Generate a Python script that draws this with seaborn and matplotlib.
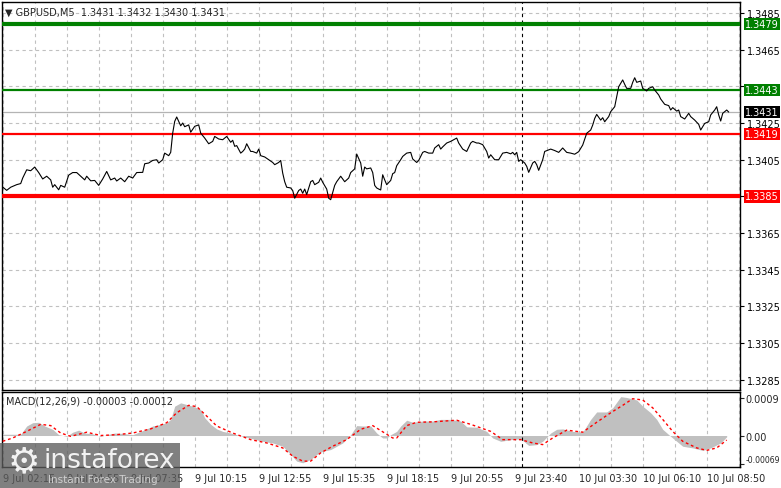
import numpy as np
import pandas as pd
import matplotlib
matplotlib.use("Agg")
import matplotlib.pyplot as plt
import matplotlib.transforms as mtrans
from matplotlib.patches import Rectangle
import seaborn as sns

# ---------------- data ----------------
symbol_title = "\u25bc GBPUSD,M5  1.3431 1.3432 1.3430 1.3431"
macd_title = "MACD(12,26,9) -0.00003 -0.00012"

price_bar = [0, 2, 4, 7, 9, 10, 12, 14, 16, 18, 20, 22, 24, 25, 26, 28, 29, 31, 33, 35, 37, 39, 41, 42, 44,
             46, 48, 50, 52, 54, 56, 57, 59, 61, 63, 65, 67, 70, 71, 73, 75, 77, 78, 80, 81, 83, 84, 85, 86,
             87, 89, 90, 91, 93, 94, 96, 98, 99, 101, 103, 105, 106, 108, 110, 111, 112, 114, 115, 116, 117,
             119, 120, 121, 122, 124, 125, 127, 128, 129, 131, 133, 135, 136, 138, 139, 140, 141, 142, 144,
             145, 146, 148, 149, 150, 151, 152, 154, 155, 156, 158, 159, 160, 162, 163, 164, 166, 167, 169,
             171, 173, 174, 176, 177, 179, 180, 181, 182, 184, 185, 186, 187, 188, 189, 190, 191, 192, 194,
             195, 196, 197, 199, 200, 202, 204, 205, 207, 208, 210, 211, 213, 215, 216, 218, 219, 220, 222,
             224, 227, 228, 230, 232, 234, 235, 237, 238, 240, 242, 243, 244, 246, 248, 250, 252, 254, 255,
             256, 257, 258, 259, 261, 262, 263, 265, 266, 267, 268, 270, 271, 273, 274, 276, 278, 280, 282,
             284, 286, 288, 290, 292, 294, 295, 296, 297, 299, 300, 301, 303, 304, 306, 307, 308, 310, 311,
             312, 314, 315, 316, 317, 319, 320, 322, 323, 325, 326, 328, 329, 331, 333, 334, 335, 337, 338,
             339, 341, 343, 344, 346, 348, 349, 351, 353, 354, 356, 357, 358, 359, 360, 362, 363]
price_close = [1.33901, 1.33883, 1.33900, 1.33914, 1.33920, 1.33950, 1.33995, 1.33990, 1.34010, 1.33980,
               1.33945, 1.33960, 1.33940, 1.33900, 1.33914, 1.33886, 1.33910, 1.33900, 1.33966, 1.33980,
               1.33980, 1.33960, 1.33940, 1.33960, 1.33935, 1.33937, 1.33910, 1.33945, 1.33986, 1.33940,
               1.33950, 1.33934, 1.33950, 1.33930, 1.33960, 1.33950, 1.33980, 1.33981, 1.34028, 1.34032,
               1.34046, 1.34050, 1.34032, 1.34050, 1.34086, 1.34072, 1.34090, 1.34195, 1.34259, 1.34283,
               1.34235, 1.34250, 1.34230, 1.34240, 1.34200, 1.34232, 1.34240, 1.34195, 1.34168, 1.34137,
               1.34150, 1.34177, 1.34163, 1.34159, 1.34168, 1.34177, 1.34145, 1.34156, 1.34123, 1.34127,
               1.34086, 1.34095, 1.34108, 1.34137, 1.34095, 1.34095, 1.34086, 1.34108, 1.34072, 1.34065,
               1.34050, 1.34035, 1.34023, 1.34035, 1.34046, 1.33977, 1.33930, 1.33900, 1.33896, 1.33882,
               1.33840, 1.33882, 1.33890, 1.33867, 1.33890, 1.33860, 1.33930, 1.33937, 1.33914, 1.33927,
               1.33950, 1.33927, 1.33890, 1.33840, 1.33832, 1.33910, 1.33930, 1.33960, 1.33930, 1.33950,
               1.33980, 1.34000, 1.34081, 1.34032, 1.33960, 1.34010, 1.34000, 1.34005, 1.33980, 1.33910,
               1.33896, 1.33890, 1.33885, 1.33968, 1.33940, 1.33914, 1.33937, 1.33974, 1.33980, 1.34017,
               1.34050, 1.34068, 1.34086, 1.34090, 1.34054, 1.34035, 1.34046, 1.34090, 1.34095, 1.34086,
               1.34086, 1.34114, 1.34132, 1.34108, 1.34120, 1.34141, 1.34150, 1.34168, 1.34141, 1.34108,
               1.34095, 1.34141, 1.34150, 1.34141, 1.34141, 1.34132, 1.34095, 1.34059, 1.34077, 1.34050,
               1.34050, 1.34086, 1.34090, 1.34082, 1.34090, 1.34077, 1.34090, 1.34041, 1.34050, 1.34032,
               1.34014, 1.33981, 1.34032, 1.34041, 1.34023, 1.33992, 1.34050, 1.34095, 1.34104, 1.34108,
               1.34100, 1.34090, 1.34114, 1.34090, 1.34086, 1.34080, 1.34094, 1.34130, 1.34194, 1.34212,
               1.34239, 1.34275, 1.34297, 1.34266, 1.34279, 1.34257, 1.34285, 1.34312, 1.34339, 1.34394,
               1.34448, 1.34485, 1.34461, 1.34439, 1.34439, 1.34472, 1.34497, 1.34472, 1.34479, 1.34439,
               1.34425, 1.34439, 1.34448, 1.34430, 1.34403, 1.34381, 1.34352, 1.34345, 1.34321, 1.34334,
               1.34315, 1.34321, 1.34285, 1.34272, 1.34303, 1.34285, 1.34266, 1.34243, 1.34212, 1.34248,
               1.34257, 1.34294, 1.34321, 1.34339, 1.34294, 1.34261, 1.34303, 1.34321, 1.34310]

hist_bar = [0, 9, 12, 15, 18, 21, 25, 28, 32, 35, 38, 41, 45, 49, 52, 56, 60, 65, 69, 72, 75, 79, 82, 84,
            86, 89, 92, 95, 99, 101, 104, 107, 110, 114, 117, 120, 125, 130, 135, 140, 144, 147, 150, 154,
            157, 160, 164, 167, 170, 174, 177, 180, 184, 187, 190, 192, 194, 197, 199, 202, 205, 210, 215,
            219, 224, 229, 232, 237, 242, 245, 249, 254, 259, 263, 267, 270, 274, 277, 280, 285, 290, 294,
            297, 302, 305, 309, 312, 317, 320, 324, 327, 330, 334, 337, 340, 345, 350, 354, 359, 362]
hist_val = [0.00003, 0.00003, 0.00023, 0.00031, 0.00032, 0.00023, 0.00015, 0.00002, -0.00002, 0.00008,
            0.00013, 0.00006, 0.00004, -0.00002, 0.00002, 0.00006, 0.00005, 0.00002, 0.00010, 0.00016,
            0.00023, 0.00027, 0.00031, 0.00039, 0.00071, 0.00079, 0.00075, 0.00071, 0.00063, 0.00043,
            0.00027, 0.00016, 0.00010, 0.00006, 0.00002, -0.00002, -0.00008, -0.00014, -0.00018, -0.00026,
            -0.00046, -0.00062, -0.00066, -0.00058, -0.00046, -0.00038, -0.00034, -0.00026, -0.00018,
            0.00002, 0.00024, 0.00023, 0.00023, 0.00006, -0.00006, -0.00006, 0.00002, 0.00010, 0.00023,
            0.00037, 0.00032, 0.00035, 0.00035, 0.00039, 0.00039, 0.00035, 0.00021, 0.00020, 0.00010,
            -0.00006, -0.00014, -0.00010, -0.00008, -0.00024, -0.00022, -0.00014, 0.00006, 0.00015,
            0.00016, 0.00010, 0.00008, 0.00039, 0.00057, 0.00057, 0.00067, 0.00094, 0.00092, 0.00086,
            0.00071, 0.00055, 0.00039, 0.00015, -0.00002, -0.00014, -0.00026, -0.00030, -0.00036,
            -0.00030, -0.00018, -0.00003]

signal_bar = [0, 5, 12, 19, 24, 29, 34, 42, 49, 57, 65, 74, 82, 87, 93, 97, 102, 107, 115, 124, 132, 140,
              145, 150, 154, 159, 165, 172, 179, 185, 189, 195, 197, 202, 207, 215, 227, 234, 244, 250, 259,
              265, 270, 275, 282, 290, 297, 304, 310, 315, 320, 325, 330, 335, 340, 347, 352, 357, 362]
signal_val = [-0.00014, -0.00006, 0.00010, 0.00027, 0.00024, 0.00006, -0.00002, 0.00008, 0.00000, 0.00002,
              0.00006, 0.00016, 0.00031, 0.00055, 0.00073, 0.00070, 0.00047, 0.00023, 0.00006, -0.00010,
              -0.00018, -0.00030, -0.00050, -0.00062, -0.00062, -0.00042, -0.00026, -0.00010, 0.00015,
              0.00024, 0.00012, -0.00006, -0.00006, 0.00024, 0.00032, 0.00033, 0.00037, 0.00027, 0.00010,
              -0.00010, -0.00010, -0.00018, -0.00022, -0.00006, 0.00013, 0.00008, 0.00032, 0.00055,
              0.00073, 0.00089, 0.00086, 0.00067, 0.00039, 0.00010, -0.00014, -0.00030, -0.00036,
              -0.00030, -0.00011]

levels = [1.3479, 1.3443, 1.3419, 1.3385]
level_labels = ["1.3479", "1.3443", "1.3419", "1.3385"]
level_colors = ["#008000", "#008000", "#ff0000", "#ff0000"]
level_widths = [3.0, 1.6, 1.6, 3.0]
current_price = 1.3431
current_label = "1.3431"

price_ticks = [1.3285, 1.3305, 1.3325, 1.3345, 1.3365, 1.3385, 1.3405, 1.3425, 1.3445, 1.3465, 1.3485]
# labels hidden behind the level boxes are left blank
price_tick_labels = ["1.3285", "1.3305", "1.3325", "1.3345", "1.3365", "", "1.3405", "1.3425",
                     "", "1.3465", "1.3485"]
time_tick_bars = list(range(0, 369, 16))
time_labels = ["9 Jul 02:15", "", "9 Jul 04:55", "", "9 Jul 07:35", "", "9 Jul 10:15", "",
               "9 Jul 12:55", "", "9 Jul 15:35", "", "9 Jul 18:15", "", "9 Jul 20:55", "",
               "9 Jul 23:40", "", "10 Jul 03:30", "", "10 Jul 06:10", "", "10 Jul 08:50", ""]
macd_ticks = [0.0009, 0.0, -0.00069]
macd_tick_labels = ["0.0009", "0.00", "-0.00069"]
separator_bar = 259.6

# ---------------- style ----------------
sns.set_style("white")
plt.rcParams["font.family"] = ["DejaVu Sans"]
plt.rcParams["font.size"] = 7

W, H = 781, 489
fig = plt.figure(figsize=(W / 100, H / 100), dpi=100)
fig.patch.set_facecolor("white")

ax = fig.add_axes([2 / W, 1 - 390.5 / H, 738 / W, 387.5 / H])
ax2 = fig.add_axes([2 / W, 1 - 467.5 / H, 738 / W, 75 / H])

xlim = (-0.35, 368.65)
grid_color = "#c0c0c0"

# ---- main price panel ----
df = pd.DataFrame({"bar": price_bar, "close": price_close})
sns.lineplot(data=df, x="bar", y="close", ax=ax, color="black", lw=0.8, estimator=None, zorder=4)

for lv, c, w in zip(levels, level_colors, level_widths):
    ax.axhline(lv, color=c, lw=w, zorder=3)
ax.axhline(current_price, color="#b4b4b4", lw=0.9, zorder=2)
ax.axvline(separator_bar, color="black", lw=0.8, ls=(0, (3, 3)), zorder=2)

ax.set_xlim(*xlim)
ax.set_ylim(1.32797, 1.3491)
ax.set_xticks(time_tick_bars)
ax.set_xticklabels([])
ax.tick_params(axis="x", length=0)
ax.yaxis.tick_right()
ax.set_yticks(price_ticks)
ax.set_yticklabels(price_tick_labels)
ax.tick_params(axis="y", length=3, pad=2, labelsize=7, colors="black", width=0.8)
ax.grid(True, color=grid_color, ls=(0, (3, 3)), lw=0.8)
ax.set_xlabel("")
ax.set_ylabel("")
for s in ax.spines.values():
    s.set_color("black")
    s.set_linewidth(1)

ax.text(0.004, 0.987, symbol_title, transform=ax.transAxes, ha="left", va="top", fontsize=7, zorder=6)

label_tr = mtrans.blended_transform_factory(ax.transAxes, ax.transData)
for lv, lab, c in zip(levels, level_labels, level_colors):
    ax.text(1.0 + 5 / 738, lv, lab, transform=label_tr, ha="left", va="center", fontsize=7,
            color="white", clip_on=False, zorder=8,
            bbox=dict(boxstyle="square,pad=0.12", fc=c, ec="none"))
ax.text(1.0 + 5 / 738, current_price, current_label, transform=label_tr, ha="left", va="center",
        fontsize=7, color="white", clip_on=False, zorder=8,
        bbox=dict(boxstyle="square,pad=0.12", fc="black", ec="none"))

# ---- MACD panel ----
ax2.fill_between(hist_bar, hist_val, 0, color="#c0c0c0", lw=0, zorder=2)
sig_df = pd.DataFrame({"bar": signal_bar, "sig": signal_val})
sns.lineplot(data=sig_df, x="bar", y="sig", ax=ax2, color="red", lw=1.0, estimator=None,
             linestyle=(0, (2, 2)), zorder=4)
ax2.axvline(separator_bar, color="black", lw=0.8, ls=(0, (3, 3)), zorder=3)

ax2.set_xlim(*xlim)
ax2.set_ylim(-0.00075, 0.001065)
ax2.set_xticks(time_tick_bars)
ax2.set_xticklabels(time_labels)
for lbl in ax2.get_xticklabels():
    lbl.set_ha("left")
ax2.tick_params(axis="x", length=3, pad=2, labelsize=7, width=0.8)
ax2.yaxis.tick_right()
ax2.set_yticks(macd_ticks)
ax2.set_yticklabels(macd_tick_labels)
ax2.tick_params(axis="y", length=3, pad=1, labelsize=7, width=0.8)
for lbl in ax2.get_yticklabels():
    if lbl.get_text().startswith("-"):
        lbl.set_fontsize(5.6)
        lbl.set_va("bottom")
ax2.grid(True, axis="x", color=grid_color, ls=(0, (3, 3)), lw=0.8)
ax2.grid(False, axis="y")
ax2.set_xlabel("")
ax2.set_ylabel("")
for s in ax2.spines.values():
    s.set_color("black")
    s.set_linewidth(1)
ax2.text(0.006, 0.95, macd_title, transform=ax2.transAxes, ha="left", va="top", fontsize=7, zorder=6)

# ---- watermark ----
fig.add_artist(Rectangle((0, 0), 180 / W, 45 / H, transform=fig.transFigure,
                         fc="#5c5c5c", ec="none", alpha=0.78, zorder=20))
fig.text(24 / W, 1 - 462 / H, "\u2699", ha="center", va="center", fontsize=26, color="white",
         alpha=0.9, zorder=21)
fig.text(44 / W, 1 - 461 / H, "instaforex", ha="left", va="center", fontsize=19, color="white",
         alpha=0.9, zorder=21)
fig.text(48 / W, 1 - 480 / H, "Instant Forex Trading", ha="left", va="center", fontsize=7.5,
         color="#d8d8d8", alpha=0.9, zorder=21)

fig.savefig("out.png", dpi=100)
